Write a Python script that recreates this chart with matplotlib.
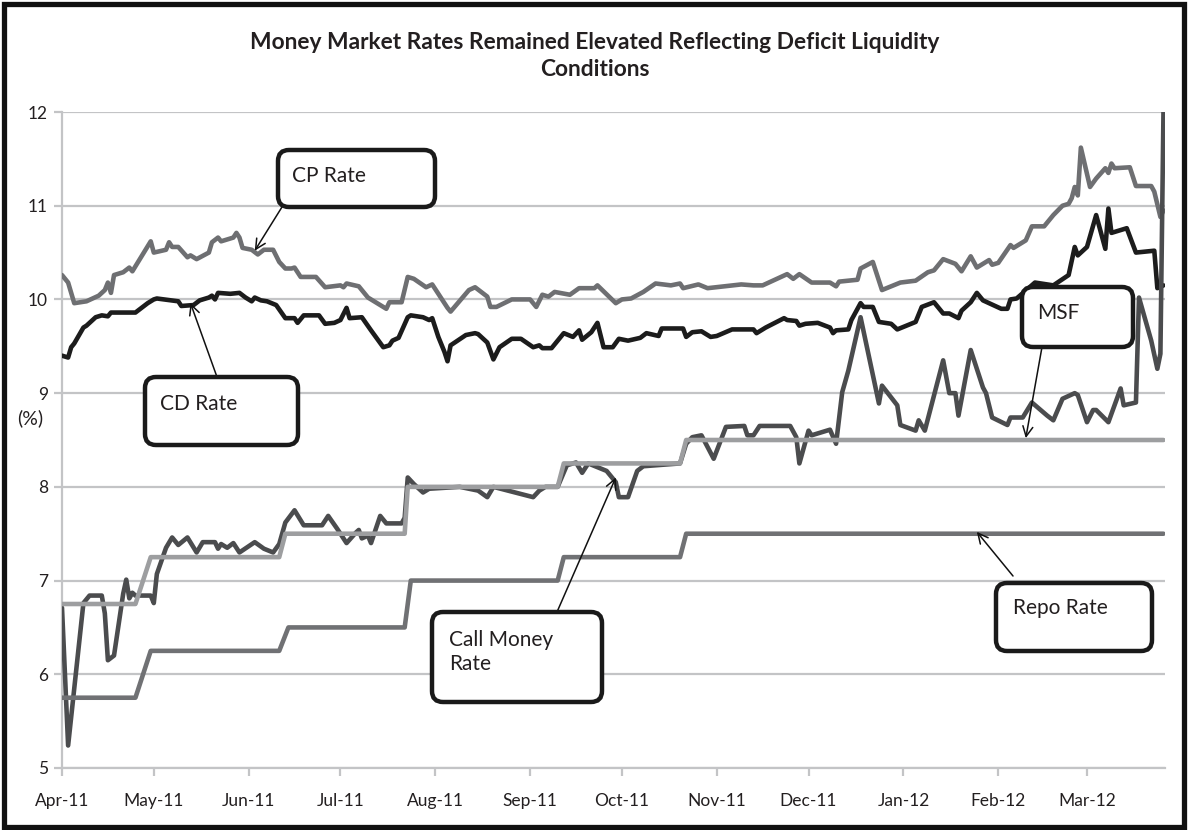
import numpy as np
import pandas as pd
import matplotlib
matplotlib.use("Agg")
import matplotlib.pyplot as plt
import matplotlib.dates as mdates
from matplotlib.patches import FancyBboxPatch, Rectangle
from matplotlib.transforms import IdentityTransform

plt.rcParams['font.family'] = ['Lato', 'DejaVu Sans']

# days counted from 1 April 2011
start = pd.Timestamp("2011-04-01")

cp_day = [0, 2, 4, 8, 12, 14, 15, 16, 17, 20, 22, 23, 29, 30, 34, 35, 36, 38, 41, 42, 44,
          48, 49, 51, 52, 56, 57, 58, 59, 62, 64, 66, 69, 71, 73, 75, 76, 78, 83, 86, 91,
          92, 93, 97, 100, 106, 107, 111, 113, 115, 119, 121, 126, 127, 133, 135, 139, 140,
          142, 147, 153, 155, 157, 159, 161, 166, 169, 174, 175, 181, 183, 186, 190, 194,
          199, 202, 203, 208, 211, 222, 226, 229, 237, 239, 241, 245, 251, 253, 254, 260,
          261, 265, 268, 274, 279, 283, 285, 288, 292, 294, 297, 299, 303, 304, 306, 310,
          311, 315, 317, 321, 324, 327, 329, 330, 331, 332, 333, 336, 338, 341, 342, 343,
          344, 349, 351, 356, 357, 359, 360]
cp_val = [10.26, 10.18, 9.96, 9.98, 10.04, 10.10, 10.18, 10.07, 10.26, 10.29, 10.34, 10.30,
          10.62, 10.50, 10.53, 10.61, 10.56, 10.56, 10.45, 10.47, 10.43, 10.50, 10.61, 10.66,
          10.62, 10.66, 10.71, 10.66, 10.55, 10.53, 10.48, 10.53, 10.53, 10.40, 10.33, 10.33,
          10.34, 10.24, 10.24, 10.13, 10.15, 10.13, 10.17, 10.14, 10.02, 9.90, 9.97, 9.97,
          10.24, 10.22, 10.13, 10.16, 9.91, 9.87, 10.10, 10.13, 10.03, 9.92, 9.92, 10.00,
          10.00, 9.92, 10.05, 10.03, 10.08, 10.05, 10.12, 10.12, 10.15, 9.96, 10.00, 10.01,
          10.08, 10.17, 10.15, 10.17, 10.12, 10.16, 10.12, 10.16, 10.15, 10.15, 10.27, 10.22,
          10.27, 10.18, 10.18, 10.14, 10.19, 10.21, 10.33, 10.40, 10.10, 10.18, 10.20, 10.29,
          10.31, 10.43, 10.38, 10.30, 10.46, 10.34, 10.42, 10.37, 10.39, 10.58, 10.55, 10.63,
          10.78, 10.78, 10.90, 11.00, 11.02, 11.08, 11.20, 11.11, 11.62, 11.20, 11.29, 11.40,
          11.35, 11.45, 11.40, 11.41, 11.21, 11.21, 11.15, 10.88, 10.95]

cd_day = [0, 2, 3, 4, 7, 8, 11, 13, 15, 16, 24, 28, 30, 31, 38, 39, 43, 45, 48, 49, 50, 51,
          55, 58, 60, 62, 63, 65, 67, 70, 73, 76, 77, 79, 84, 86, 89, 91, 93, 94, 98, 101,
          105, 107, 108, 110, 113, 114, 118, 120, 121, 123, 125, 126, 127, 132, 135, 136,
          139, 141, 143, 147, 150, 154, 156, 157, 160, 164, 167, 169, 170, 173, 175, 177,
          180, 182, 185, 189, 191, 195, 196, 203, 204, 206, 209, 212, 214, 219, 226, 227,
          230, 236, 237, 240, 241, 243, 247, 251, 252, 253, 257, 258, 261, 262, 265, 267,
          271, 273, 276, 279, 281, 285, 288, 290, 293, 294, 297, 299, 301, 303, 307, 309,
          310, 312, 318, 324, 329, 331, 332, 335, 338, 341, 342, 343, 348, 351, 357, 358, 360]
cd_val = [9.40, 9.38, 9.49, 9.53, 9.70, 9.72, 9.81, 9.83, 9.82, 9.86, 9.86, 9.96, 10.00,
          10.01, 9.98, 9.93, 9.94, 9.99, 10.02, 10.04, 10.00, 10.07, 10.06, 10.07, 10.02,
          9.98, 10.02, 9.99, 9.98, 9.94, 9.80, 9.80, 9.75, 9.83, 9.83, 9.74, 9.75, 9.78, 9.91,
          9.80, 9.81, 9.67, 9.49, 9.51, 9.56, 9.59, 9.81, 9.83, 9.81, 9.78, 9.80, 9.60, 9.44,
          9.34, 9.51, 9.62, 9.64, 9.63, 9.54, 9.36, 9.49, 9.58, 9.58, 9.49, 9.51, 9.48, 9.48,
          9.64, 9.60, 9.67, 9.57, 9.65, 9.75, 9.49, 9.49, 9.58, 9.56, 9.59, 9.64, 9.61, 9.69,
          9.69, 9.60, 9.65, 9.66, 9.60, 9.61, 9.68, 9.68, 9.64, 9.70, 9.80, 9.78, 9.77, 9.72,
          9.74, 9.75, 9.70, 9.64, 9.67, 9.68, 9.78, 9.96, 9.92, 9.92, 9.76, 9.74, 9.68, 9.72,
          9.76, 9.92, 9.97, 9.85, 9.85, 9.80, 9.88, 9.97, 10.07, 9.99, 9.96, 9.90, 9.90,
          10.00, 10.01, 10.18, 10.15, 10.26, 10.56, 10.47, 10.56, 10.90, 10.54, 10.97, 10.71,
          10.76, 10.50, 10.52, 10.12, 10.15]

call_day = [0, 2, 7, 9, 13, 14, 15, 17, 20, 21, 22, 23, 24, 29, 30, 31, 34, 36, 38, 41, 44,
            46, 50, 51, 52, 54, 56, 58, 63, 66, 69, 71, 73, 76, 79, 85, 87, 90, 93, 96, 97,
            98, 100, 101, 104, 106, 111, 112, 113, 115, 118, 120, 130, 136, 139, 141, 154,
            156, 158, 162, 165, 168, 170, 172, 175, 178, 181, 182, 185, 188, 190, 202, 204,
            206, 209, 213, 217, 223, 224, 226, 228, 238, 240, 241, 244, 245, 251, 253, 255,
            257, 261, 267, 268, 273, 274, 279, 280, 282, 288, 290, 292, 293, 297, 301, 302,
            304, 309, 310, 314, 317, 322, 324, 327, 331, 332, 335, 337, 338, 342, 346, 347,
            351, 352, 356, 358, 359, 360]
call_val = [6.71, 5.24, 6.76, 6.84, 6.84, 6.65, 6.15, 6.20, 6.86, 7.01, 6.81, 6.87, 6.84,
            6.84, 6.76, 7.07, 7.35, 7.46, 7.38, 7.46, 7.30, 7.41, 7.41, 7.34, 7.39, 7.35,
            7.40, 7.30, 7.41, 7.34, 7.30, 7.39, 7.62, 7.75, 7.59, 7.59, 7.69, 7.55, 7.40,
            7.51, 7.54, 7.45, 7.48, 7.40, 7.69, 7.61, 7.61, 7.67, 8.10, 8.03, 7.94, 7.98,
            8.00, 7.96, 7.89, 8.00, 7.89, 7.96, 8.00, 8.00, 8.23, 8.26, 8.15, 8.25, 8.21,
            8.17, 8.05, 7.89, 7.89, 8.17, 8.22, 8.25, 8.46, 8.53, 8.55, 8.30, 8.64, 8.65,
            8.55, 8.55, 8.65, 8.65, 8.53, 8.25, 8.60, 8.55, 8.61, 8.46, 9.01, 9.24, 9.81,
            8.89, 9.08, 8.87, 8.66, 8.60, 8.71, 8.60, 9.35, 9.00, 9.00, 8.76, 9.46, 9.06,
            9.00, 8.74, 8.66, 8.74, 8.74, 8.90, 8.76, 8.71, 8.94, 9.00, 8.98, 8.69, 8.82,
            8.82, 8.69, 9.05, 8.87, 8.90, 10.02, 9.56, 9.26, 9.42, 12.00]

msf_day = [0, 24, 29, 71, 73, 112, 113, 162, 164, 202, 204, 360]
msf_val = [6.75, 6.75, 7.25, 7.25, 7.50, 7.50, 8.00, 8.00, 8.25, 8.25, 8.50, 8.50]

repo_day = [0, 24, 29, 71, 74, 112, 114, 162, 164, 202, 204, 360]
repo_val = [5.75, 5.75, 6.25, 6.25, 6.50, 6.50, 7.00, 7.00, 7.25, 7.25, 7.50, 7.50]


def to_dates(days):
    return start + pd.to_timedelta(days, unit="D")


W, H = 1188, 830
fig = plt.figure(figsize=(W / 100, H / 100), dpi=100)
ax = fig.add_axes([62 / W, 1 - 768 / H, (1165 - 62) / W, (768 - 112) / H])

grid_c = "#c3c4c6"
lw = 3.3
kw = dict(solid_joinstyle="round", solid_capstyle="round")
ax.plot(to_dates(cp_day), cp_val, color="#6e6f72", lw=lw, zorder=3, **kw)
ax.plot(to_dates(cd_day), cd_val, color="#1c1c1c", lw=lw, zorder=3, **kw)
ax.plot(to_dates(call_day), call_val, color="#4b4c4e", lw=lw, zorder=3, **kw)
ax.plot(to_dates(repo_day), repo_val, color="#707174", lw=lw, zorder=4, **kw)
ax.plot(to_dates(msf_day), msf_val, color="#9d9ea0", lw=lw, zorder=4, **kw)

ax.set_ylim(5, 12)
ax.set_xlim(start, start + pd.Timedelta(days=360.5))
ax.set_yticks(range(5, 13))
ax.xaxis.set_major_locator(mdates.MonthLocator())
ax.xaxis.set_major_formatter(mdates.DateFormatter("%b-%y"))

ax.grid(axis="y", color=grid_c, lw=1.6)
ax.set_axisbelow(True)
for s in ["top", "right"]:
    ax.spines[s].set_visible(False)
ax.spines["left"].set_color(grid_c)
ax.spines["left"].set_linewidth(1.6)
ax.spines["bottom"].set_color(grid_c)
ax.spines["bottom"].set_linewidth(1.6)
ax.tick_params(axis="both", colors=grid_c, width=1.6, length=6, labelsize=12.5,
               labelcolor="#231f20")
ax.tick_params(axis="x", pad=12)
ax.tick_params(axis="y", pad=4)

fig.text(595 / W, 1 - 56 / H,
         "Money Market Rates Remained Elevated Reflecting Deficit Liquidity\nConditions",
         ha="center", va="center", fontsize=16.4, fontweight="bold", color="#231f20",
         linespacing=1.3)
fig.text(30 / W, 1 - 418 / H, "(%)", ha="center", va="center", fontsize=14,
         color="#231f20")

# outer frame
fig.patches.append(Rectangle((4 / W, 3 / H), 1180 / W, 823 / H, transform=fig.transFigure,
                             fill=False, ec="#111111", lw=3.8, zorder=0))

# callout boxes: (x0, y0, x1, y1) in pixels, text, text pos, arrow tail, arrow head (day, value)
callouts = [
    ((278, 150, 435, 207), "CP Rate", (292, 176), (282, 207), (63, 10.52)),
    ((145, 377, 298, 445), "CD Rate", (160, 404), (217, 377), (42, 9.96)),
    ((432, 612, 602, 702), "Call Money\nRate", (449, 652), (557, 612), (181, 8.10)),
    ((1022, 287, 1133, 347), "MSF", (1037, 313), (1042, 347), (315, 8.52)),
    ((996, 583, 1152, 651), "Repo Rate", (1013, 608), (1013, 576), (299, 7.52)),
]
for (x0, y0, x1, y1), label, (tx, ty), (ax0, ay0), (hd, hv) in callouts:
    box = FancyBboxPatch((x0, H - y1), x1 - x0, y1 - y0,
                         boxstyle="round,pad=0,rounding_size=11",
                         transform=IdentityTransform(), fc="white", ec="#1a1a1a", lw=3.2,
                         zorder=10)
    fig.patches.append(box)
    fig.text(tx / W, 1 - ty / H, label, ha="left", va="center", fontsize=15,
             color="#231f20", zorder=11, linespacing=1.25)
    ax.annotate("", xy=(start + pd.Timedelta(days=hd), hv), xycoords="data",
                xytext=(ax0 / W, 1 - ay0 / H), textcoords="figure fraction",
                arrowprops=dict(arrowstyle="->", color="#111111", lw=1.1,
                                mutation_scale=18, shrinkA=0, shrinkB=0),
                zorder=9, annotation_clip=False)

fig.savefig("out.png", dpi=100)
